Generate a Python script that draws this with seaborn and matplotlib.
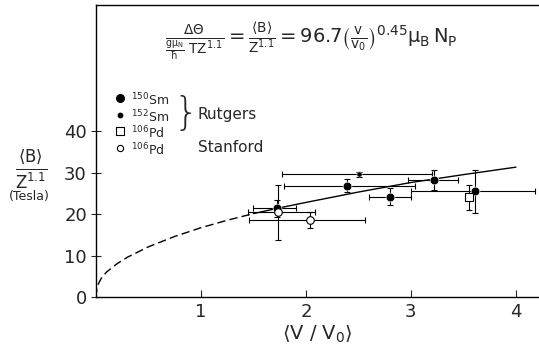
import numpy as np
import pandas as pd
import matplotlib
matplotlib.use('Agg')
import matplotlib.pyplot as plt
import seaborn as sns

# ---- data ----
# power-law curve <B>/Z^1.1 vs <v/v0>
curve_x = [0.0, 0.01, 0.02, 0.05, 0.1, 0.2, 0.3, 0.5, 0.75, 1.0, 1.25, 1.5,
           1.75, 2.0, 2.5, 3.0, 3.5, 4.0]
curve_y = [0.0, 2.2, 3.0, 4.5, 6.0, 8.0, 9.6, 12.1, 14.6, 16.7, 18.5, 20.1,
           21.5, 22.8, 25.3, 27.6, 29.5, 31.3]
dash_end = 1.5  # dashed below this, solid above

# Rutgers 150Sm (large filled circles)
sm150_x = [1.72, 2.39, 2.80, 3.22, 3.61]
sm150_y = [21.4, 26.8, 24.2, 28.2, 25.5]
sm150_xlo = [1.50, 1.79, 2.60, 2.97, 3.00]
sm150_xhi = [1.91, 3.04, 3.00, 3.45, 4.18]
sm150_yerr = [2.0, 1.6, 2.0, 2.5, 5.2]

# Rutgers 152Sm (small filled circle)
sm152_x = [2.51]
sm152_y = [29.6]
sm152_xlo = [1.77]
sm152_xhi = [3.20]
sm152_yerr = [0.6]

# Rutgers 106Pd (open square)
pdr_x = [3.55]
pdr_y = [24.0]
pdr_yerr = [3.0]

# Stanford 106Pd (open circles)
pds_x = [1.73, 2.04]
pds_y = [20.4, 18.6]
pds_xlo = [1.45, 1.46]
pds_xhi = [2.09, 2.56]
pds_yerr = [6.6, 2.0]

yticks = [0, 10, 20, 30, 40]
xticks = [1, 2, 3, 4]

# ---- style ----
sns.set_style('ticks')
plt.rcParams['font.family'] = ['DejaVu Sans']
plt.rcParams['mathtext.fontset'] = 'dejavusans'
plt.rcParams['mathtext.default'] = 'regular'

fig = plt.figure(figsize=(5.39, 3.54), dpi=100)
ax = fig.add_axes([0.178, 0.161, 0.822, 0.825])

# curve
curve = pd.DataFrame({'x': curve_x, 'y': curve_y})
sns.lineplot(data=curve[curve.x <= dash_end], x='x', y='y', ax=ax,
             color='black', lw=1.0, linestyle=(0, (6, 3)))
sns.lineplot(data=curve[curve.x >= dash_end], x='x', y='y', ax=ax,
             color='black', lw=1.0)

eb = dict(fmt='none', ecolor='black', elinewidth=0.8, capsize=2.5, capthick=0.8, zorder=3)


def xerr(x, lo, hi):
    return [np.array(x) - np.array(lo), np.array(hi) - np.array(x)]


ax.errorbar(sm150_x, sm150_y, xerr=xerr(sm150_x, sm150_xlo, sm150_xhi), yerr=sm150_yerr, **eb)
ax.errorbar(sm152_x, sm152_y, xerr=xerr(sm152_x, sm152_xlo, sm152_xhi), yerr=sm152_yerr, **eb)
ax.errorbar(pdr_x, pdr_y, yerr=pdr_yerr, **eb)
ax.errorbar(pds_x, pds_y, xerr=xerr(pds_x, pds_xlo, pds_xhi), yerr=pds_yerr, **eb)

sns.scatterplot(x=sm150_x, y=sm150_y, ax=ax, marker='o', s=40, color='black', zorder=4)
sns.scatterplot(x=sm152_x, y=sm152_y, ax=ax, marker='o', s=14, color='black', zorder=4)
sns.scatterplot(x=pdr_x, y=pdr_y, ax=ax, marker='s', s=30, facecolor='white',
                edgecolor='black', linewidth=0.8, zorder=4)
sns.scatterplot(x=pds_x, y=pds_y, ax=ax, marker='o', s=30, facecolor='white',
                edgecolor='black', linewidth=0.8, zorder=4)

# legend drawn by hand
leg_y = [48.0, 43.9, 40.0, 36.0]
leg_labels = [r'$^{150}$Sm', r'$^{152}$Sm', r'$^{106}$Pd', r'$^{106}$Pd']
ax.scatter([0.23], [leg_y[0]], marker='o', s=30, color='black', clip_on=False)
ax.scatter([0.23], [leg_y[1]], marker='o', s=10, color='black', clip_on=False)
ax.scatter([0.23], [leg_y[2]], marker='s', s=26, facecolor='white', edgecolor='black', lw=0.8)
ax.scatter([0.23], [leg_y[3]], marker='o', s=20, facecolor='white', edgecolor='black', lw=0.8)
for yy, lab in zip(leg_y, leg_labels):
    ax.text(0.33, yy - 0.5, lab, fontsize=9, va='center', ha='left')
ax.text(0.74, 44.2, '}', fontsize=28, va='center', ha='left', fontweight='light')
ax.text(0.97, 43.9, 'Rutgers', fontsize=11, va='center', ha='left')
ax.text(0.97, 36.0, 'Stanford', fontsize=11, va='center', ha='left')

# equation
ax.text(2.05, 61.5,
        r'$\frac{\Delta\Theta}{\frac{g\mu_N}{\hbar}\ TZ^{1.1}}'
        r' = \frac{\langle B\rangle}{Z^{1.1}}'
        r' = 96.7\left(\frac{v}{v_0}\right)^{0.45}\mu_B\,N_P$',
        fontsize=14, ha='center', va='center')

# axes
ax.set_xlim(0, 4.22)
ax.set_ylim(0, 70.4)
ax.set_xticks(xticks)
ax.set_yticks(yticks)
ax.tick_params(axis='x', direction='in', length=5, width=0.8, labelsize=13, pad=4)
ax.tick_params(axis='y', direction='inout', length=7, width=0.8, labelsize=13, pad=3)
for side in ['left', 'bottom', 'top']:
    ax.spines[side].set_linewidth(1.0)
    ax.spines[side].set_color('black')
ax.spines['right'].set_visible(False)
ax.set_xlabel(r'$\langle$V / V$_0\rangle$', fontsize=14, labelpad=2)
ax.set_ylabel('')

fig.text(0.058, 0.52, r'$\frac{\langle B\rangle}{Z^{1.1}}$', fontsize=17,
         ha='center', va='center')
fig.text(0.055, 0.445, '(Tesla)', fontsize=9, ha='center', va='center')

fig.savefig('out.png', dpi=100)
